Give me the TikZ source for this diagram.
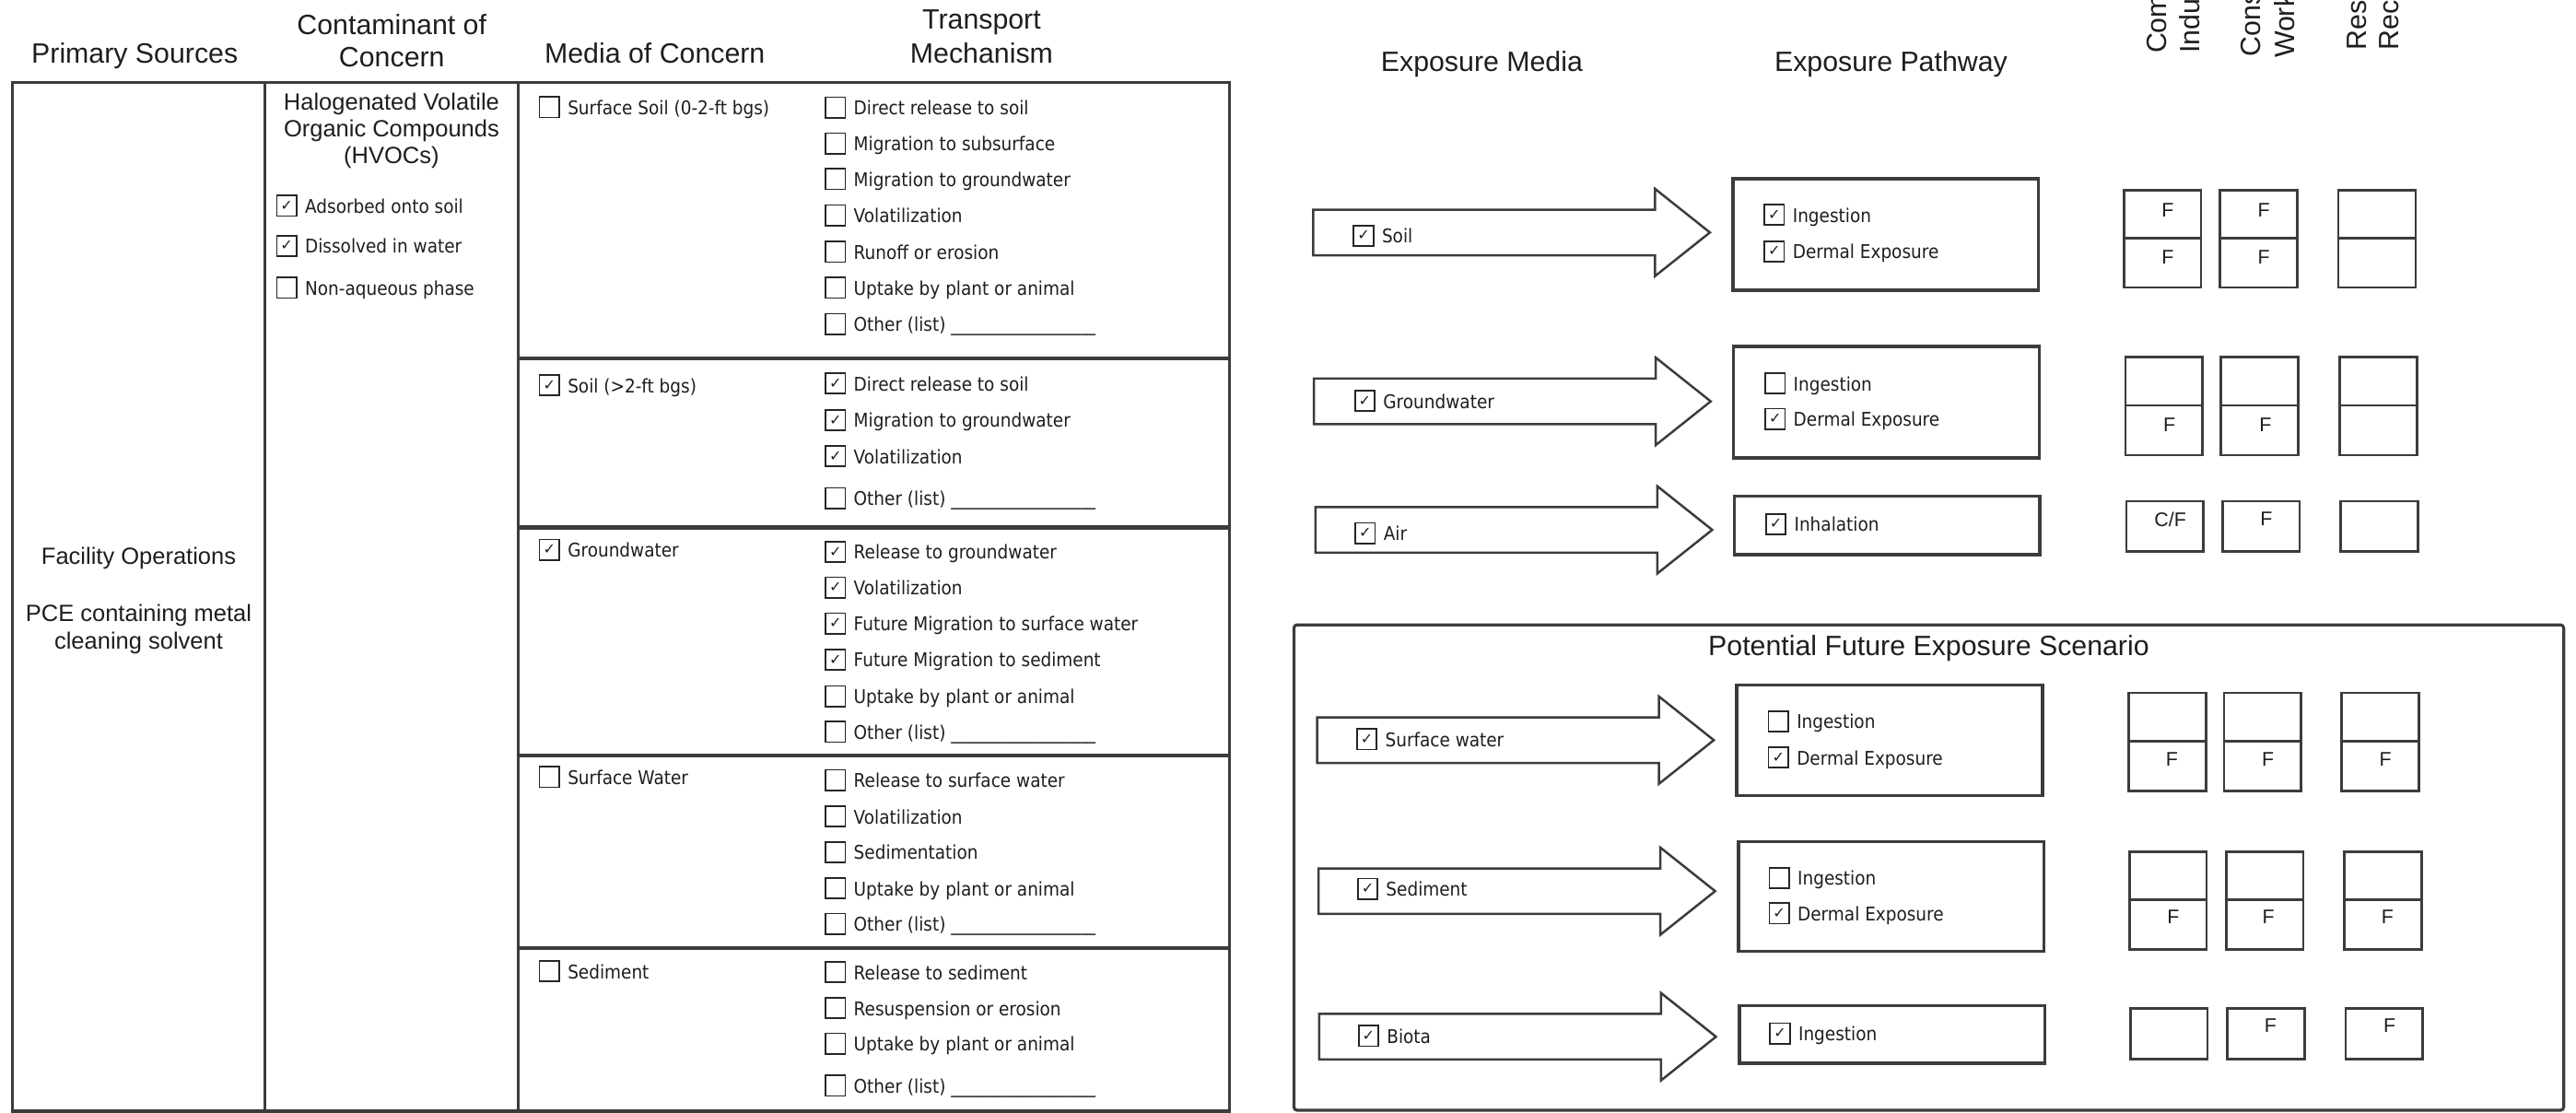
\documentclass[tikz,border=0pt]{standalone}
\usepackage{fontspec}
\setmainfont{Liberation Sans}
\newfontfamily\boxfont{DejaVu Sans}[FakeStretch=0.9]
\newfontfamily\checkfont{DejaVu Sans}
\usetikzlibrary{positioning,shapes.arrows}
\definecolor{linie}{HTML}{3C3C3C}
\definecolor{schrift}{HTML}{1E1E1E}
\tikzset{
  tableline/.style={draw=linie,line width=1.8pt},
  rowline/.style={draw=linie,line width=2.4pt},
  cbox/.style={draw=black!85,line width=1pt,minimum width=12pt,minimum height=12.5pt,inner sep=0pt,font=\checkfont\fontsize{9}{9}\selectfont,text=schrift},
  cboxtext/.style={inner sep=0pt,text height=11.5pt,text depth=2.5pt,font=\boxfont\fontsize{11.5}{13}\selectfont,text=schrift},
  headtext/.style={inner sep=0pt,anchor=base,font=\fontsize{17}{20}\selectfont,text=schrift},
  coltext/.style={inner sep=0pt,anchor=base,font=\fontsize{14.3}{16.5}\selectfont,text=schrift},
  pathbox/.style={draw=linie,line width=2pt,minimum width=186pt,inner sep=0pt,anchor=north west},
  recbox/.style={draw=linie,line width=1.5pt,minimum width=47pt,inner sep=0pt,anchor=north west},
  recval/.style={inner sep=0pt,font=\fontsize{12}{12}\selectfont,text=schrift},
  mediaarrow/.style={single arrow,draw=linie,line width=1.4pt,minimum height=241.5pt,minimum width=0pt,
    inner xsep=0pt,inner ysep=13.15pt,single arrow head extend=12.75pt,single arrow tip angle=77,anchor=tail}
}
\begin{document}
\begin{tikzpicture}[x=1pt,y=-1pt]
\useasboundingbox (0,0) rectangle (1568,677.4);
% Kopfzeilen
\node[headtext]at(82,38.3)(h_sources){Primary Sources};
\node[headtext]at(238.5,21)(h_coc1){Contaminant of};
\node[headtext]at(238.5,40.8)(h_coc2){Concern};
\node[headtext]at(398.6,38.3)(h_media){Media of Concern};
\node[headtext]at(597.5,17.8)(h_trans1){Transport};
\node[headtext]at(597.5,38.3)(h_trans2){Mechanism};
\node[headtext]at(902,43.4)(h_expmedia){Exposure Media};
\node[headtext]at(1151,43.4)(h_exppath){Exposure Pathway};
\node[headtext,rotate=90,anchor=base west]at(1318.8,32.7)(h_com1){Commercial/};
\node[headtext,rotate=90,anchor=base west]at(1338.8,32.7)(h_com2){Industrial};
\node[headtext,rotate=90,anchor=base west]at(1375.8,34.6)(h_con1){Construction};
\node[headtext,rotate=90,anchor=base west]at(1396.4,35.5)(h_con2){Worker};
\node[headtext,rotate=90,anchor=base west]at(1440.3,30.8)(h_res1){Resident/};
\node[headtext,rotate=90,anchor=base west]at(1459.9,30.8)(h_res2){Recreational};

% Tabelle
\draw[tableline](7.5,50) rectangle (748.5,676.3);
\draw[tableline](161.2,50) -- (161.2,676.3);
\draw[tableline](315.5,50) -- (315.5,676.3);
\draw[rowline](315.5,218.3) -- (748.5,218.3);
\draw[rowline](315.5,321.1) -- (748.5,321.1);
\draw[rowline](315.5,459.9) -- (748.5,459.9);
\draw[rowline](315.5,577.2) -- (748.5,577.2);

% Quelle
\node[coltext]at(84.4,343.3)(src1){Facility Operations};
\node[coltext]at(84.4,378.2)(src2){PCE containing metal};
\node[coltext]at(84.4,395)(src3){cleaning solvent};

% Schadstoff
\node[coltext]at(238.3,67)(coc1){Halogenated Volatile};
\node[coltext]at(238.3,83.3)(coc2){Organic Compounds};
\node[coltext]at(238.3,99.6)(coc3){(HVOCs)};
\node[cbox]at(174.5,125.3)(c_ads){✓};
\node[cboxtext,right=4.5pt of c_ads](c_ads_t){Adsorbed onto soil};
\node[cbox]at(174.5,149.6)(c_dis){✓};
\node[cboxtext,right=4.5pt of c_dis](c_dis_t){Dissolved in water};
\node[cbox]at(174.5,175.2)(c_nap){};
\node[cboxtext,right=4.5pt of c_nap](c_nap_t){Non-aqueous phase};

% Medien
\node[cbox]at(334.4,65.2)(m_ssoil){};
\node[cboxtext,right=4.5pt of m_ssoil](m_ssoil_t){Surface Soil (0-2-ft bgs)};
\node[cbox]at(334.4,234.5)(m_soil){✓};
\node[cboxtext,right=4.5pt of m_soil](m_soil_t){Soil (>2-ft bgs)};
\node[cbox]at(334.4,334.6)(m_gw){✓};
\node[cboxtext,right=4.5pt of m_gw](m_gw_t){Groundwater};
\node[cbox]at(334.4,473)(m_sw){};
\node[cboxtext,right=4.5pt of m_sw](m_sw_t){Surface Water};
\node[cbox]at(334.4,591.1)(m_sed){};
\node[cboxtext,right=4.5pt of m_sed](m_sed_t){Sediment};

% Transport Oberboden
\node[cbox]at(508.5,65.4)(t1a){};
\node[cboxtext,right=4.5pt of t1a](t1a_t){Direct release to soil};
\node[cbox]at(508.5,87.3)(t1b){};
\node[cboxtext,right=4.5pt of t1b](t1b_t){Migration to subsurface};
\node[cbox]at(508.5,109)(t1c){};
\node[cboxtext,right=4.5pt of t1c](t1c_t){Migration to groundwater};
\node[cbox]at(508.5,131)(t1d){};
\node[cboxtext,right=4.5pt of t1d](t1d_t){Volatilization};
\node[cbox]at(508.5,153.3)(t1e){};
\node[cboxtext,right=4.5pt of t1e](t1e_t){Runoff or erosion};
\node[cbox]at(508.5,175.2)(t1f){};
\node[cboxtext,right=4.5pt of t1f](t1f_t){Uptake by plant or animal};
\node[cbox]at(508.5,197.2)(t1g){};
\node[cboxtext,right=4.5pt of t1g](t1g_t){Other (list) \_\_\_\_\_\_\_\_\_\_\_\_\_\_\_\_\_};
% Transport Boden
\node[cbox]at(508.5,233.3)(t2a){✓};
\node[cboxtext,right=4.5pt of t2a](t2a_t){Direct release to soil};
\node[cbox]at(508.5,255.7)(t2b){✓};
\node[cboxtext,right=4.5pt of t2b](t2b_t){Migration to groundwater};
\node[cbox]at(508.5,277.6)(t2c){✓};
\node[cboxtext,right=4.5pt of t2c](t2c_t){Volatilization};
\node[cbox]at(508.5,303.2)(t2d){};
\node[cboxtext,right=4.5pt of t2d](t2d_t){Other (list) \_\_\_\_\_\_\_\_\_\_\_\_\_\_\_\_\_};
% Transport Grundwasser
\node[cbox]at(508.5,335.9)(t3a){✓};
\node[cboxtext,right=4.5pt of t3a](t3a_t){Release to groundwater};
\node[cbox]at(508.5,357.6)(t3b){✓};
\node[cboxtext,right=4.5pt of t3b](t3b_t){Volatilization};
\node[cbox]at(508.5,379.5)(t3c){✓};
\node[cboxtext,right=4.5pt of t3c](t3c_t){Future Migration to surface water};
\node[cbox]at(508.5,401.5)(t3d){✓};
\node[cboxtext,right=4.5pt of t3d](t3d_t){Future Migration to sediment};
\node[cbox]at(508.5,423.8)(t3e){};
\node[cboxtext,right=4.5pt of t3e](t3e_t){Uptake by plant or animal};
\node[cbox]at(508.5,445.5)(t3f){};
\node[cboxtext,right=4.5pt of t3f](t3f_t){Other (list) \_\_\_\_\_\_\_\_\_\_\_\_\_\_\_\_\_};
% Transport Oberflaechenwasser
\node[cbox]at(508.5,474.8)(t4a){};
\node[cboxtext,right=4.5pt of t4a](t4a_t){Release to surface water};
\node[cbox]at(508.5,496.9)(t4b){};
\node[cboxtext,right=4.5pt of t4b](t4b_t){Volatilization};
\node[cbox]at(508.5,518.7)(t4c){};
\node[cboxtext,right=4.5pt of t4c](t4c_t){Sedimentation};
\node[cbox]at(508.5,540.6)(t4d){};
\node[cboxtext,right=4.5pt of t4d](t4d_t){Uptake by plant or animal};
\node[cbox]at(508.5,562.3)(t4e){};
\node[cboxtext,right=4.5pt of t4e](t4e_t){Other (list) \_\_\_\_\_\_\_\_\_\_\_\_\_\_\_\_\_};
% Transport Sediment
\node[cbox]at(508.5,591.7)(t5a){};
\node[cboxtext,right=4.5pt of t5a](t5a_t){Release to sediment};
\node[cbox]at(508.5,613.5)(t5b){};
\node[cboxtext,right=4.5pt of t5b](t5b_t){Resuspension or erosion};
\node[cbox]at(508.5,635.2)(t5c){};
\node[cboxtext,right=4.5pt of t5c](t5c_t){Uptake by plant or animal};
\node[cbox]at(508.5,660.8)(t5d){};
\node[cboxtext,right=4.5pt of t5d](t5d_t){Other (list) \_\_\_\_\_\_\_\_\_\_\_\_\_\_\_\_\_};

% Expositionsmedien (Pfeile)
\node[mediaarrow]at(798.6,141.5)(a_soil){};
\node[mediaarrow]at(799.1,244.3)(a_gw){};
\node[mediaarrow]at(800,322.5)(a_air){};
\node[mediaarrow]at(801,450.5)(a_sw){};
\node[mediaarrow]at(801.8,542.4)(a_sed){};
\node[mediaarrow]at(802.3,631)(a_bio){};
\node[cbox]at(830,143.5)(e_soil){✓};
\node[cboxtext,right=4.5pt of e_soil](e_soil_t){Soil};
\node[cbox]at(830.8,244)(e_gw){✓};
\node[cboxtext,right=4.5pt of e_gw](e_gw_t){Groundwater};
\node[cbox]at(831,324.5)(e_air){✓};
\node[cboxtext,right=4.5pt of e_air](e_air_t){Air};
\node[cbox]at(832,450)(e_sw){✓};
\node[cboxtext,right=4.5pt of e_sw](e_sw_t){Surface water};
\node[cbox]at(832.5,541)(e_sed){✓};
\node[cboxtext,right=4.5pt of e_sed](e_sed_t){Sediment};
\node[cbox]at(833,630.5)(e_bio){✓};
\node[cboxtext,right=4.5pt of e_bio](e_bio_t){Biota};

% Expositionspfade
\node[pathbox,minimum height=67.9pt]at(1053.7,107.8)(p_soil){};
\node[cbox]at(1080,130.8)(p_soil_i){✓};
\node[cboxtext,right=4.5pt of p_soil_i](p_soil_it){Ingestion};
\node[cbox]at(1080,153)(p_soil_d){✓};
\node[cboxtext,right=4.5pt of p_soil_d](p_soil_dt){Dermal Exposure};
\node[pathbox,minimum height=67.6pt]at(1054.2,210)(p_gw){};
\node[cbox]at(1080.5,233.3)(p_gw_i){};
\node[cboxtext,right=4.5pt of p_gw_i](p_gw_it){Ingestion};
\node[cbox]at(1080.5,255)(p_gw_d){✓};
\node[cboxtext,right=4.5pt of p_gw_d](p_gw_dt){Dermal Exposure};
\node[pathbox,minimum height=35.5pt]at(1054.7,301)(p_air){};
\node[cbox]at(1081,319)(p_air_h){✓};
\node[cboxtext,right=4.5pt of p_air_h](p_air_ht){Inhalation};

% Rezeptoren
\node[recbox,minimum height=29.3pt]at(1292,115)(r_soil_a1){};
\node[recbox,minimum height=29.9pt]at(1292,144.3)(r_soil_a2){};
\node[recbox,minimum height=29.3pt]at(1350.5,115)(r_soil_b1){};
\node[recbox,minimum height=29.9pt]at(1350.5,144.3)(r_soil_b2){};
\node[recbox,minimum height=29.3pt]at(1422.6,115)(r_soil_c1){};
\node[recbox,minimum height=29.9pt]at(1422.6,144.3)(r_soil_c2){};
\node[recval]at(1319.5,128)(v_soil_a1){F};
\node[recval]at(1319.5,156.5)(v_soil_a2){F};
\node[recval]at(1378,128)(v_soil_b1){F};
\node[recval]at(1378,156.5)(v_soil_b2){F};
\node[recbox,minimum height=29.5pt]at(1293,216.5)(r_gw_a1){};
\node[recbox,minimum height=30.3pt]at(1293,246)(r_gw_a2){};
\node[recbox,minimum height=29.5pt]at(1351,216.5)(r_gw_b1){};
\node[recbox,minimum height=30.3pt]at(1351,246)(r_gw_b2){};
\node[recbox,minimum height=29.5pt]at(1423.5,216.5)(r_gw_c1){};
\node[recbox,minimum height=30.3pt]at(1423.5,246)(r_gw_c2){};
\node[recval]at(1320.5,258.5)(v_gw_a2){F};
\node[recval]at(1379,258.5)(v_gw_b2){F};
\node[recbox,minimum height=30.7pt]at(1293.5,304.3)(r_air_a){};
\node[recbox,minimum height=30.7pt]at(1352,304.3)(r_air_b){};
\node[recbox,minimum height=30.7pt]at(1424,304.3)(r_air_c){};
\node[recval]at(1321,316)(v_air_a){C/F};
\node[recval]at(1379.5,316)(v_air_b){F};

% Zukuenftiges Szenario
\draw[draw=linie,line width=1.8pt,rounded corners=2pt](787.6,380.3) rectangle (1560.5,675.8);
\node[headtext]at(1174,399)(fut_title){Potential Future Exposure Scenario};
\node[pathbox,minimum height=67.3pt]at(1056.2,416)(p_sw){};
\node[cbox]at(1082.5,439)(p_sw_i){};
\node[cboxtext,right=4.5pt of p_sw_i](p_sw_it){Ingestion};
\node[cbox]at(1082.5,461)(p_sw_d){✓};
\node[cboxtext,right=4.5pt of p_sw_d](p_sw_dt){Dermal Exposure};
\node[pathbox,minimum height=66.6pt]at(1057.2,511.4)(p_sed){};
\node[cbox]at(1083,534.4)(p_sed_i){};
\node[cboxtext,right=4.5pt of p_sed_i](p_sed_it){Ingestion};
\node[cbox]at(1083,556)(p_sed_d){✓};
\node[cboxtext,right=4.5pt of p_sed_d](p_sed_dt){Dermal Exposure};
\node[pathbox,minimum height=35pt]at(1057.7,611)(p_bio){};
\node[cbox]at(1083.5,629)(p_bio_i){✓};
\node[cboxtext,right=4.5pt of p_bio_i](p_bio_it){Ingestion};

\node[recbox,minimum height=29.5pt]at(1295,421)(r_sw_a1){};
\node[recbox,minimum height=30.3pt]at(1295,450.5)(r_sw_a2){};
\node[recbox,minimum height=29.5pt]at(1353,421)(r_sw_b1){};
\node[recbox,minimum height=30.3pt]at(1353,450.5)(r_sw_b2){};
\node[recbox,minimum height=29.5pt]at(1424.5,421)(r_sw_c1){};
\node[recbox,minimum height=30.3pt]at(1424.5,450.5)(r_sw_c2){};
\node[recval]at(1322,462)(v_sw_a2){F};
\node[recval]at(1380.5,462)(v_sw_b2){F};
\node[recval]at(1452,462)(v_sw_c2){F};
\node[recbox,minimum height=29pt]at(1295.4,517.8)(r_sed_a1){};
\node[recbox,minimum height=30.2pt]at(1295.4,546.8)(r_sed_a2){};
\node[recbox,minimum height=29pt]at(1354.3,517.8)(r_sed_b1){};
\node[recbox,minimum height=30.2pt]at(1354.3,546.8)(r_sed_b2){};
\node[recbox,minimum height=29pt]at(1426.2,517.8)(r_sed_c1){};
\node[recbox,minimum height=30.2pt]at(1426.2,546.8)(r_sed_c2){};
\node[recval]at(1322.9,558)(v_sed_a2){F};
\node[recval]at(1380.7,558)(v_sed_b2){F};
\node[recval]at(1453.2,558)(v_sed_c2){F};
\node[recbox,minimum height=30.7pt]at(1296,613)(r_bio_a){};
\node[recbox,minimum height=30.7pt]at(1355,613)(r_bio_b){};
\node[recbox,minimum height=30.7pt]at(1427,613)(r_bio_c){};
\node[recval]at(1382,624.4)(v_bio_b){F};
\node[recval]at(1454.5,624.4)(v_bio_c){F};
\end{tikzpicture}
\end{document}
